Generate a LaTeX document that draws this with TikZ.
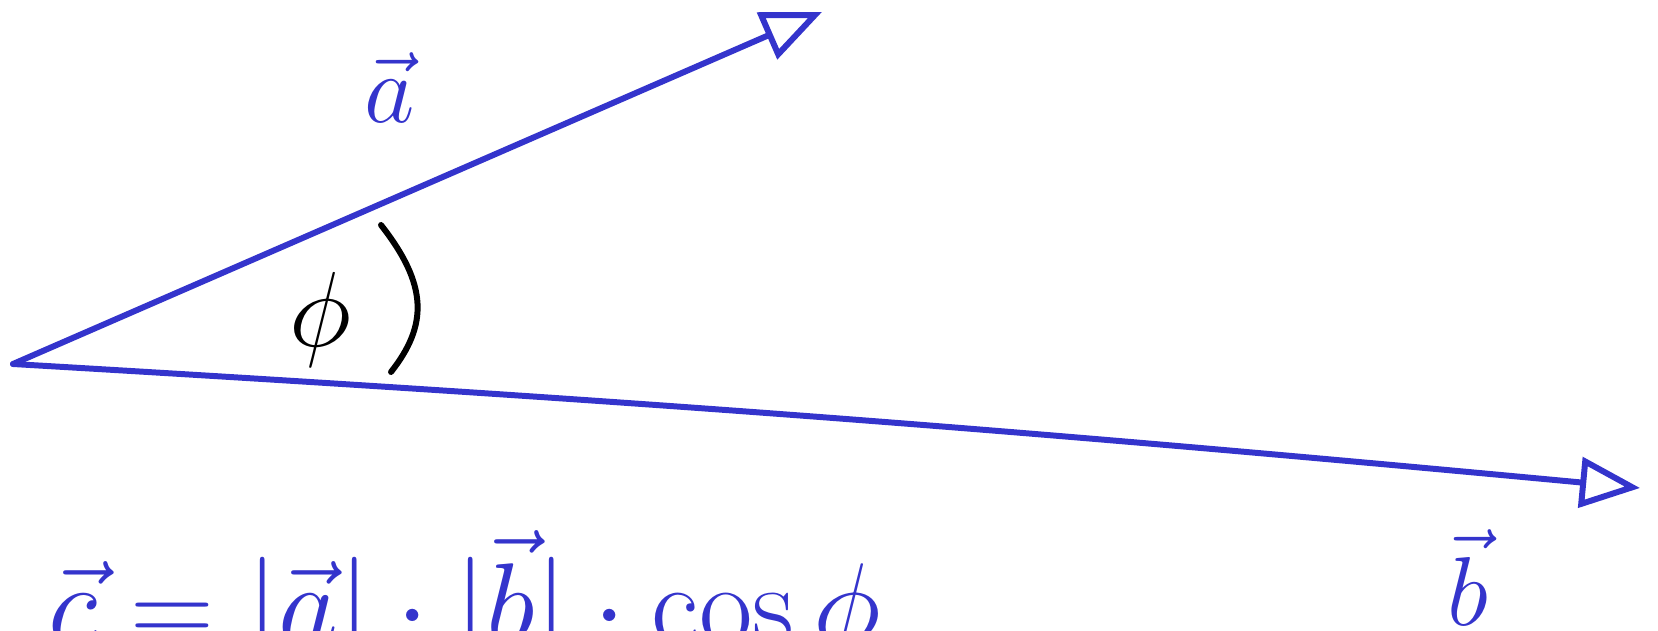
\documentclass[tikz,border=0pt]{standalone}
\usepackage{amsmath}
\usepackage{tikz}
\usepackage{xcolor}
\usetikzlibrary{positioning, arrows.meta, calc}
\definecolor{penBlue}{RGB}{52,52,204}

\begin{document}
\begin{tikzpicture}[
  x=0.01cm, y=-0.01cm,
  >={Triangle[open, length=0.6cm, width=0.5cm]},
  vecline/.style={->, penBlue, line width=1.7pt, line cap=round, line join=round},
  veclabel/.style={penBlue, inner sep=0pt, font=\Huge},
]
  \useasboundingbox (0,0) rectangle (1658,631);
  \clip (0,0) rectangle (1658,631);

  % Vectors
  \coordinate (O) at (13,364);
  \coordinate (A) at (822,12);
  \coordinate (B) at (1640,488);
  \draw[vecline] (O) -- (A);
  \draw[vecline] (O) to[bend left=1] (B);

  % Angle
  \draw[black, line width=1.7pt, line cap=round]
    (381,225) .. controls (428,285) and (428,325) .. (391,372);
  \node[inner sep=0pt, font=\Huge] (phi) at (320,320) {\scalebox{1.22}{$\phi$}};

  % Labels
  \node[veclabel] (alabel) at (390,88) {\scalebox{1.12}{$\vec{a}$}};
  \node[veclabel] (blabel) at (1468,578) {\scalebox{1.12}{$\vec{b}$}};

  % Formula (cut by the lower edge)
  \node[veclabel, anchor=base west] (formula) at (48,644)
    {\scalebox{1.33}{$\vec{c} = |\vec{a}|\cdot|\vec{b}|\cdot\cos\phi$}};
\end{tikzpicture}
\end{document}
